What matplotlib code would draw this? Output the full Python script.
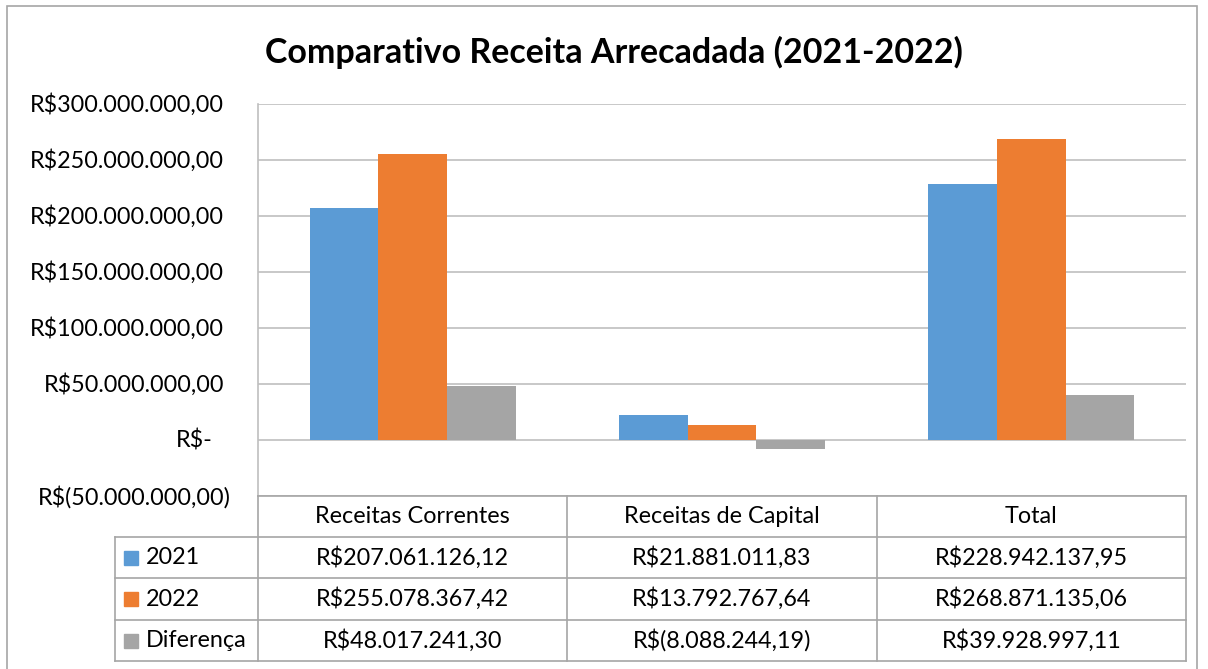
import matplotlib
matplotlib.use("Agg")
import matplotlib.pyplot as plt
from matplotlib.lines import Line2D
from matplotlib.patches import Rectangle
import matplotlib.transforms as mtransforms
import numpy as np

plt.rcParams['font.family'] = ['Lato', 'DejaVu Sans']

# ---- data ----
title = "Comparativo Receita Arrecadada (2021-2022)"
categories = ["Receitas Correntes", "Receitas de Capital", "Total"]
series_names = ["2021", "2022", "Diferença"]
values_2021 = [207061126.12, 21881011.83, 228942137.95]
values_2022 = [255078367.42, 13792767.64, 268871135.06]
values_diff = [48017241.30, -8088244.19, 39928997.11]
yticks = [-50e6, 0, 50e6, 100e6, 150e6, 200e6, 250e6, 300e6]
colors = ["#5B9BD5", "#ED7D31", "#A5A5A5"]
series_values = [values_2021, values_2022, values_diff]


def brl(v, dash_zero=False):
    if dash_zero and v == 0:
        return "R$-"
    s = f"{abs(v):,.2f}".replace(",", "X").replace(".", ",").replace("X", ".")
    return f"R$({s})" if v < 0 else f"R${s}"


W, H = 1208, 669
fig = plt.figure(figsize=(W / 100, H / 100), dpi=100)


def fx(x):
    return x / W


def fy(y):
    return 1 - y / H


# outer frame
fig.add_artist(Rectangle((fx(7), fy(700)), fx(1197) - fx(7), fy(6) - fy(700),
                         transform=fig.transFigure, fill=False,
                         edgecolor="#A6A6A6", lw=1.2))

L, R, T, B = 258, 1186, 104, 496
ax = fig.add_axes([fx(L), fy(B), fx(R) - fx(L), fy(T) - fy(B)])

n = len(categories)
x = np.arange(n)
w = 1 / 4.5
for i, (vals, c) in enumerate(zip(series_values, colors)):
    ax.bar(x + (i - 1) * w, vals, width=w, color=c, zorder=3, label=series_names[i])

fs = 16.8
ax.set_xlim(-0.5, n - 0.5)
ax.set_ylim(yticks[0], yticks[-1])
ax.set_yticks(yticks)
ax.set_yticklabels([])
ax.tick_params(axis='y', length=0)
ax.set_xticks([])
ax.grid(axis='y', color="#BFBFBF", lw=1.2, zorder=0)
for s in ["top", "right", "bottom"]:
    ax.spines[s].set_visible(False)
ax.spines["left"].set_color("#BFBFBF")
ax.spines["left"].set_linewidth(1.2)

# accounting-style tick labels (alignment like spreadsheet format)
ytrans = ax.get_yaxis_transform()
for t in yticks:
    if t > 0:
        off = -34
    elif t == 0:
        off = -45
    else:
        off = -27
    tr = mtransforms.offset_copy(ytrans, fig=fig, x=off, y=-1, units='dots')
    ax.text(0, t, brl(t, dash_zero=True), transform=tr, ha="right", va="center",
            fontsize=fs)

fig.text(fx(614), fy(52), title, ha="center", va="center",
         fontsize=24.5, fontweight="bold")

# ---- data table ----
line_c = "#A6A6A6"
col_edges = [L + (R - L) * k / n for k in range(n + 1)]
row_edges = [496, 537, 578, 620, 661]
leg_left = 115


def hline(y, x0, x1):
    fig.add_artist(Line2D([fx(x0), fx(x1)], [fy(y), fy(y)], transform=fig.transFigure,
                          color=line_c, lw=1.2))


def vline(x, y0, y1):
    fig.add_artist(Line2D([fx(x), fx(x)], [fy(y0), fy(y1)], transform=fig.transFigure,
                          color=line_c, lw=1.2))


hline(row_edges[0], L, R)
for y in row_edges[1:]:
    hline(y, leg_left, R)
for xe in col_edges:
    vline(xe, row_edges[0], row_edges[-1])
vline(leg_left, row_edges[1], row_edges[-1])

for j, cat in enumerate(categories):
    xc = (col_edges[j] + col_edges[j + 1]) / 2
    fig.text(fx(xc), fy((row_edges[0] + row_edges[1]) / 2), cat,
             ha="center", va="center", fontsize=fs)
    for i, vals in enumerate(series_values):
        fig.text(fx(xc), fy((row_edges[i + 1] + row_edges[i + 2]) / 2), brl(vals[j]),
                 ha="center", va="center", fontsize=fs)

for i, (name, c) in enumerate(zip(series_names, colors)):
    yc = (row_edges[i + 1] + row_edges[i + 2]) / 2
    fig.add_artist(Rectangle((fx(124), fy(yc + 7)), fx(14), fy(0) - fy(14),
                             transform=fig.transFigure, color=c))
    fig.text(fx(146), fy(yc), name, ha="left", va="center", fontsize=fs)

fig.savefig("out.png", dpi=100)
